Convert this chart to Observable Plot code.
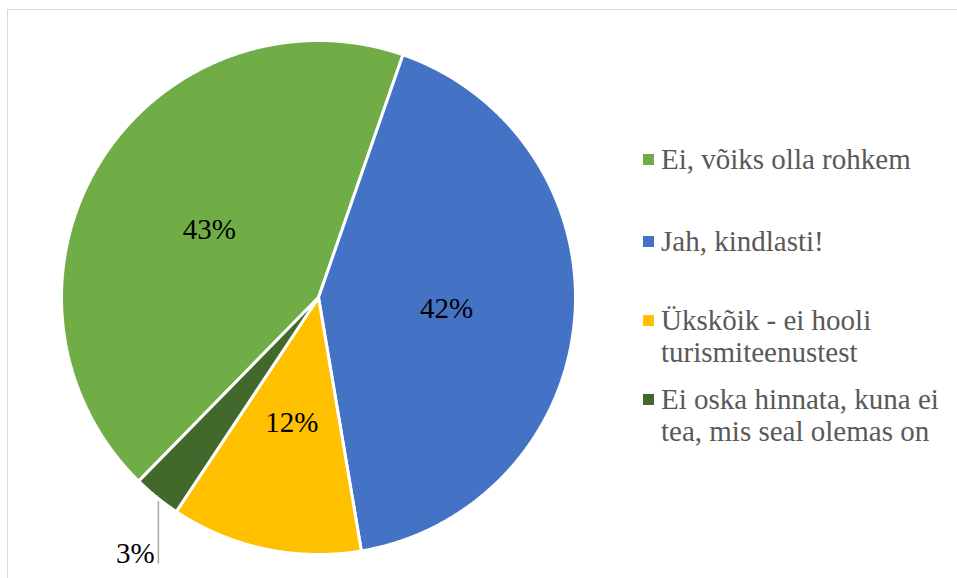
<!DOCTYPE html>
<html>
<head>
<meta charset="utf-8">
<script src="https://cdn.jsdelivr.net/npm/d3@7"></script>
<script src="https://cdn.jsdelivr.net/npm/@observablehq/plot@0.6"></script>
<style>
  html, body { margin: 0; padding: 0; background: #fff; }
  #wrap { position: relative; width: 957px; height: 578px; overflow: hidden; }
  #frame { position: absolute; left: 7px; top: 9px; width: 1000px; height: 600px;
           border-left: 1.5px solid #d9d9d9; border-top: 1.5px solid #d9d9d9; }
  #chart { position: absolute; left: 0; top: 0; }
  #legend { position: absolute; left: 661px; top: 0; width: 294px;
            font-family: "Liberation Serif", "DejaVu Serif", serif; font-size: 29px;
            line-height: 32px; color: #595959; }
  .item { position: absolute; left: 0; width: 294px; }
  .sw { position: absolute; left: -18px; top: 11px; width: 11px; height: 11px; }
</style>
</head>
<body>
<div id="wrap">
  <div id="frame"></div>
  <div id="chart"></div>
  <div id="legend"></div>
</div>
<script>
// ---- data ----
const categories = [
  "Ei, võiks olla rohkem",
  "Jah, kindlasti!",
  "Ükskõik - ei hooli turismiteenustest",
  "Ei oska hinnata, kuna ei tea, mis seal olemas on"
];
const shares = [43, 42, 12, 3];
const shareLabels = ["43%", "42%", "12%", "3%"];
const colors = ["#70ad47", "#4472c4", "#ffc000", "#43682b"];

// ---- layout ----
const W = 957, H = 578;
const cx = 318, cy = 297, r = 257;
const startDeg = 224.4;
const total = d3.sum(shares);
const rad = d => d * Math.PI / 180;
const serif = "'Liberation Serif', 'DejaVu Serif', serif";

const points = [];
const labelData = [];
const leaderData = [];
let a = startDeg;
categories.forEach((cat, i) => {
  const a0 = a, a1 = a + shares[i] / total * 360;
  points.push({cat, x: 0, y: 0});
  const n = Math.max(2, Math.ceil((a1 - a0) / 0.25));
  for (let k = 0; k <= n; k++) {
    const t = rad(a0 + (a1 - a0) * k / n);
    points.push({cat, x: Math.sin(t), y: Math.cos(t)});
  }
  const mid = rad((a0 + a1) / 2);
  if (shares[i] >= 5) {
    labelData.push({text: shareLabels[i], x: 0.5 * Math.sin(mid), y: 0.5 * Math.cos(mid), outside: false});
  } else {
    const x1 = 0.99 * Math.sin(mid), y1 = 1.02 * Math.cos(mid);
    const y2 = -1.035;
    leaderData.push({x1, y1, x2: x1, y2});
    labelData.push({text: shareLabels[i], x: x1, y: y2, outside: true});
  }
  a = a1;
});

const plot = Plot.plot({
  width: W,
  height: H,
  margin: 0,
  style: {background: "transparent"},
  x: {domain: [-1, 1], range: [cx - r, cx + r], axis: null},
  y: {domain: [-1, 1], range: [cy + r, cy - r], axis: null},
  color: {domain: categories, range: colors},
  marks: [
    Plot.line(points, {x: "x", y: "y", z: "cat", fill: "cat", stroke: "white",
      strokeWidth: 3, strokeLinejoin: "miter", curve: "linear-closed"}),
    Plot.link(leaderData, {x1: "x1", y1: "y1", x2: "x2", y2: "y2", stroke: "#a6a6a6", strokeWidth: 1.5}),
    Plot.text(labelData.filter(d => !d.outside), {x: "x", y: "y", text: "text", fontSize: 29,
      fontFamily: serif, fill: "black"}),
    Plot.text(labelData.filter(d => d.outside), {x: "x", y: "y", text: "text", fontSize: 29,
      fontFamily: serif, fill: "black", dx: -23, dy: -10})
  ]
});
document.getElementById("chart").appendChild(plot);

// legend
const legendTops = [143, 225, 304, 383];
const legend = document.getElementById("legend");
categories.forEach((cat, i) => {
  const it = document.createElement("div");
  it.className = "item";
  it.style.top = legendTops[i] + "px";
  const sw = document.createElement("span");
  sw.className = "sw";
  sw.style.background = colors[i];
  it.appendChild(sw);
  it.appendChild(document.createTextNode(cat));
  legend.appendChild(it);
});
</script>
</body>
</html>
